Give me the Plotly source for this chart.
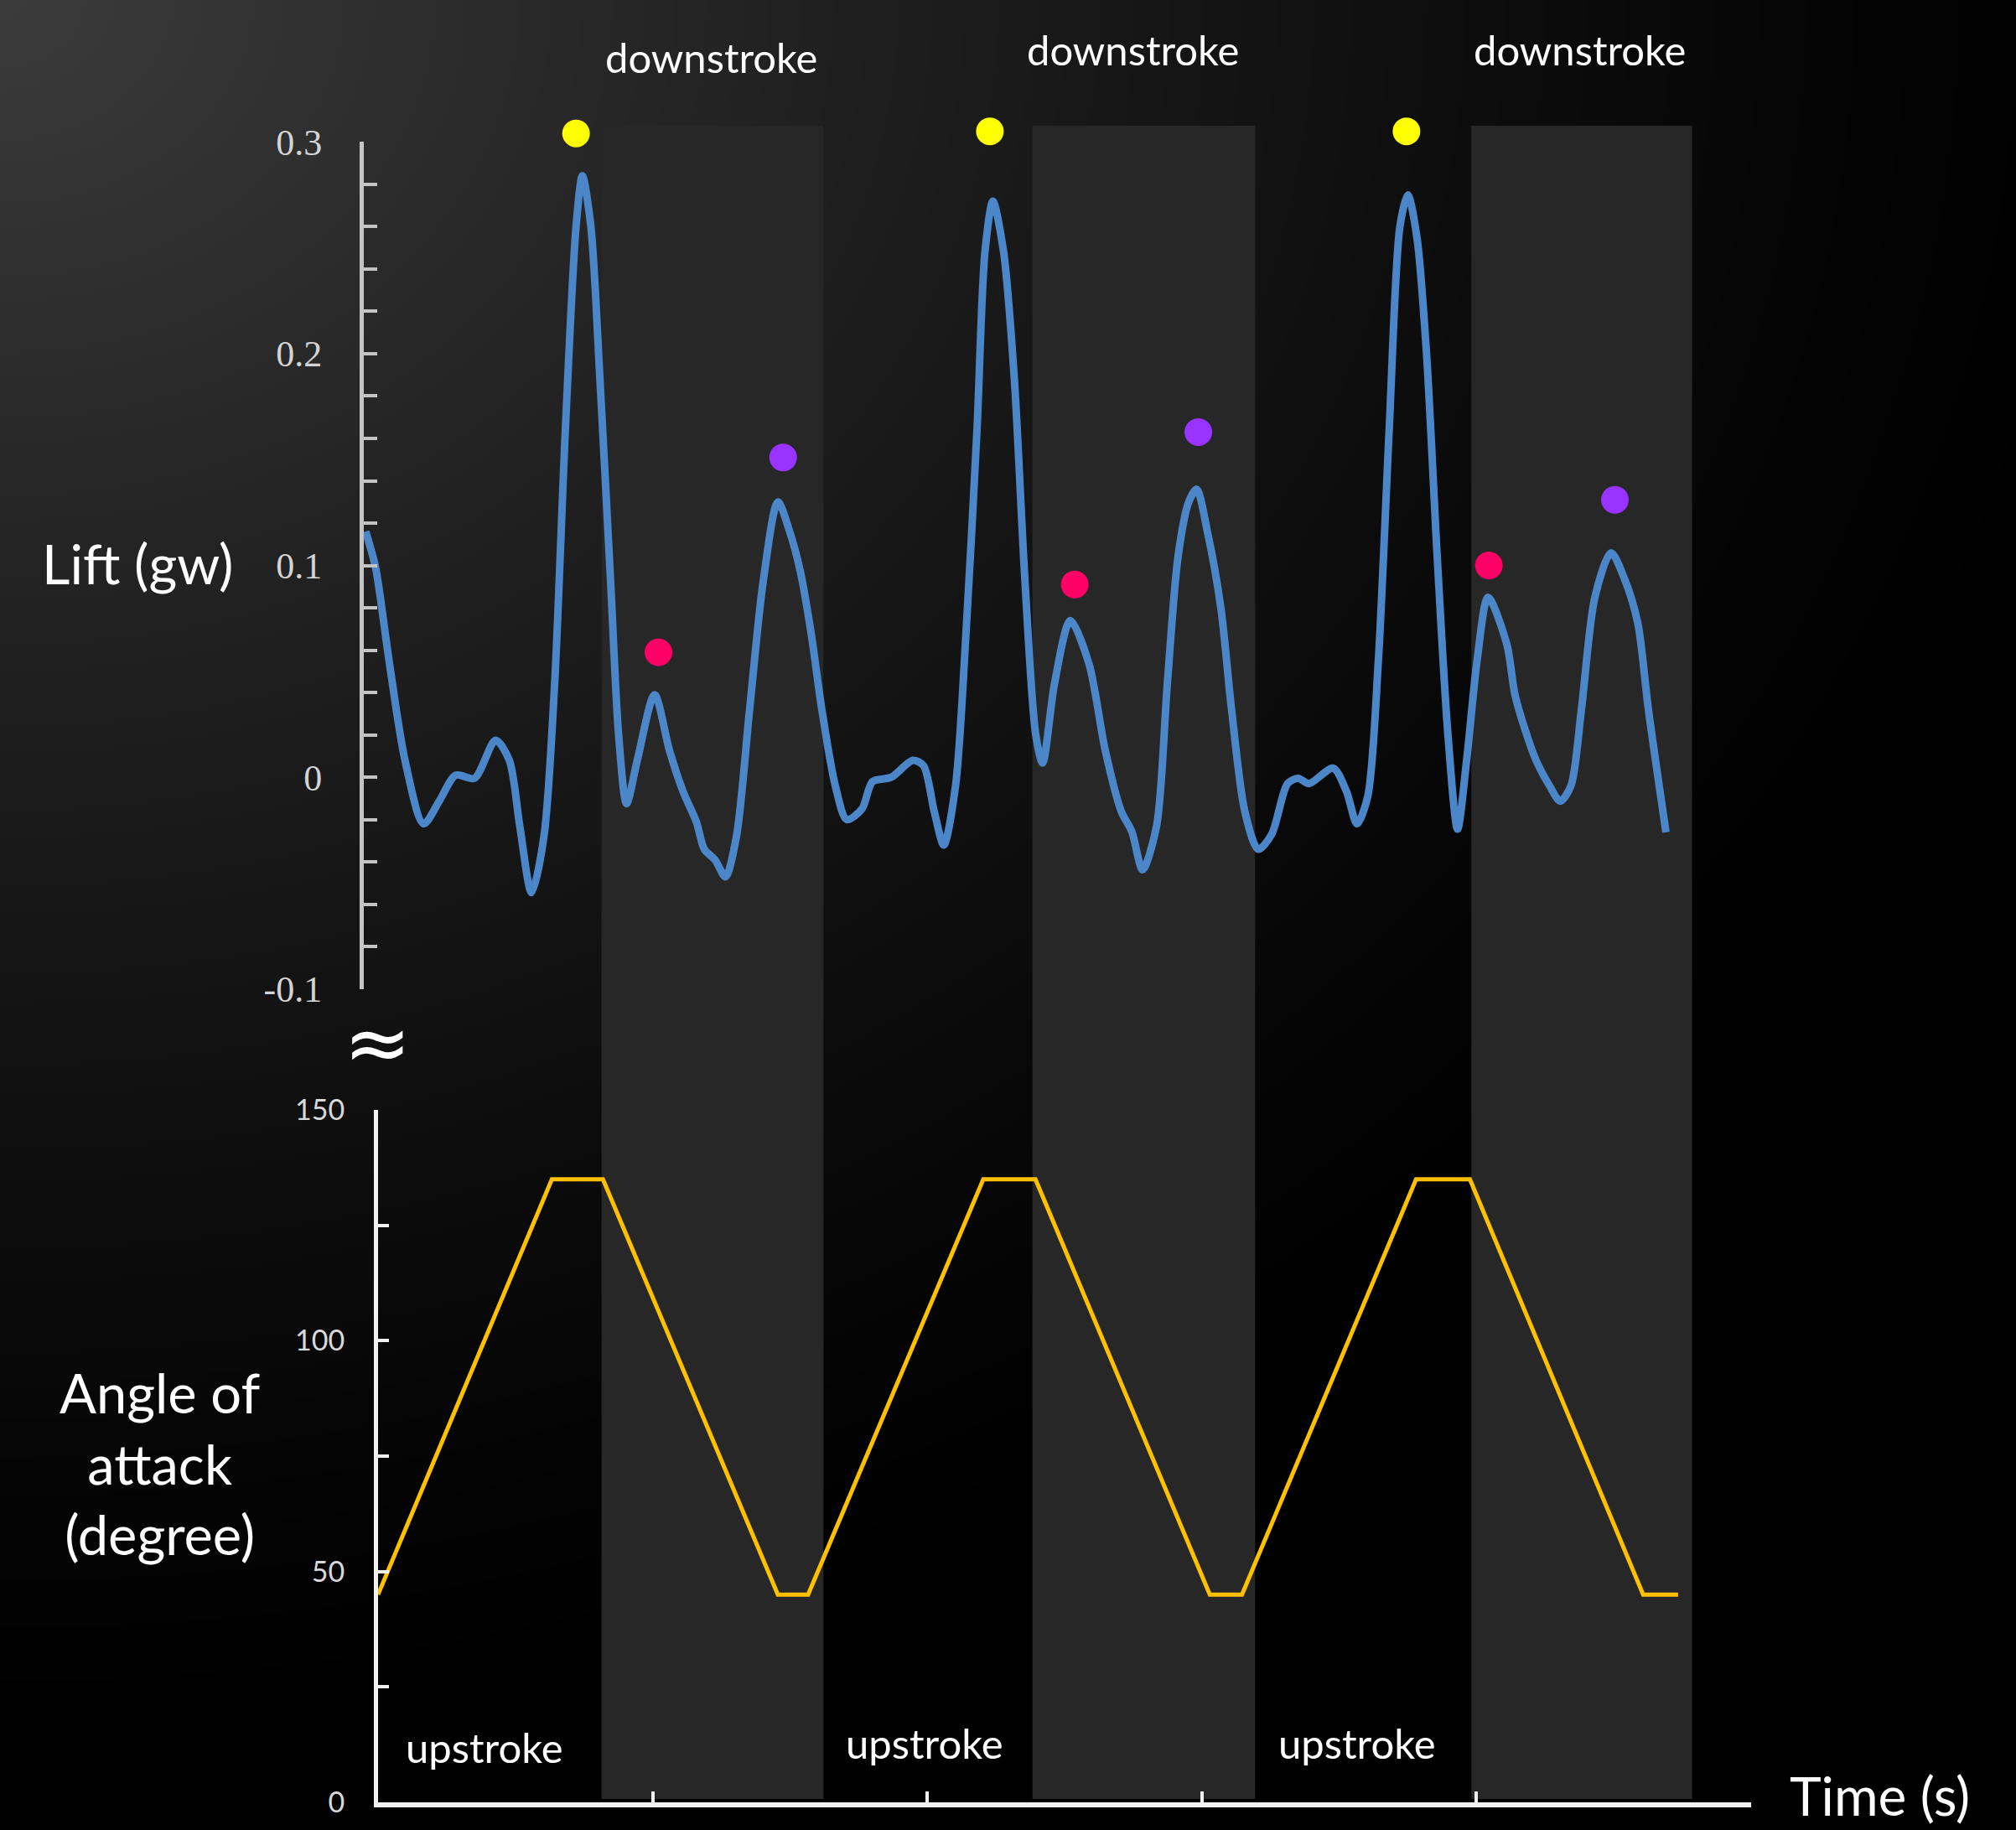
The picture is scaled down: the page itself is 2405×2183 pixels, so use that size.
import base64
import struct
import zlib

import numpy as np
import plotly.graph_objects as go

# ------------------------------------------------------------------ data
lift_t = [-0.045, -0.009, 0.039, 0.098, 0.166, 0.224, 0.283, 0.351, 0.428, 0.478,
          0.516, 0.559, 0.604, 0.643, 0.682, 0.721, 0.744, 0.775, 0.808, 0.847,
          0.876, 0.905, 0.944, 1.007, 1.061, 1.110, 1.159, 1.188, 1.227, 1.265,
          1.305, 1.353, 1.402, 1.456, 1.499, 1.538, 1.577, 1.616, 1.665, 1.707,
          1.762, 1.801, 1.869, 1.947, 1.986, 2.025, 2.060, 2.103, 2.141, 2.181,
          2.210, 2.239, 2.278, 2.317, 2.356, 2.395, 2.420, 2.463, 2.521, 2.589,
          2.648, 2.706, 2.745, 2.784, 2.835, 2.874, 2.913, 2.952, 2.981, 3.020,
          3.069, 3.108, 3.156, 3.205, 3.254, 3.312, 3.351, 3.390, 3.478, 3.526,
          3.565, 3.604, 3.643, 3.682, 3.721, 3.750, 3.783, 3.818, 3.857, 3.896,
          3.931, 3.964, 4.003, 4.042, 4.110, 4.140, 4.178, 4.217, 4.266, 4.305,
          4.344, 4.382, 4.431, 4.490, 4.538, 4.587, 4.626, 4.690]
lift_v = [0.116, 0.099, 0.056, 0.008, -0.022, -0.011, 0.001, -0.0005, 0.0175, 0.008,
          -0.023, -0.0545, -0.028, 0.044, 0.164, 0.260, 0.284, 0.260, 0.188, 0.092,
          0.020, -0.0125, 0.008, 0.039, 0.0127, -0.0065, -0.021, -0.034, -0.039, -0.047,
          -0.028, 0.032, 0.092, 0.130, 0.116, 0.097, 0.068, 0.032, -0.004, -0.020,
          -0.015, -0.002, 0.000, 0.008, 0.0055, -0.016, -0.032, -0.004, 0.068, 0.164,
          0.248, 0.272, 0.248, 0.188, 0.092, 0.020, 0.0067, 0.044, 0.074, 0.0535,
          0.0127, -0.016, -0.0257, -0.0437, -0.023, 0.044, 0.104, 0.130, 0.136, 0.116,
          0.080, 0.032, -0.016, -0.034, -0.027, -0.003, -0.0005, -0.003, 0.0043, -0.0065,
          -0.022, -0.009, 0.056, 0.164, 0.260, 0.275, 0.255, 0.200, 0.104, 0.020,
          -0.0245, 0.008, 0.056, 0.085, 0.063, 0.039, 0.022, 0.008, -0.004, -0.0113,
          -0.004, 0.032, 0.085, 0.106, 0.094, 0.073, 0.032, -0.026]

angle_t = [0.0, 0.633, 0.819, 1.456, 1.566, 2.204, 2.394, 3.029, 3.146, 3.780, 3.976, 4.607, 4.734]
angle_v = [45, 135, 135, 45, 45, 135, 135, 45, 45, 135, 135, 45, 45]

first_peak_t = [0.721, 2.228, 3.745]
first_peak_v = [0.304, 0.305, 0.305]
second_peak_t = [1.021, 2.537, 4.045]
second_peak_v = [0.059, 0.091, 0.100]
third_peak_t = [1.475, 2.987, 4.504]
third_peak_v = [0.151, 0.163, 0.131]

downstroke_start = [0.814, 2.383, 3.981]
downstroke_end = [1.622, 3.194, 4.785]

lift_ticks = [-0.1, 0, 0.1, 0.2, 0.3]
lift_tick_labels = ["-0.1", "0", "0.1", "0.2", "0.3"]
angle_ticks = [0, 50, 100, 150]
angle_tick_labels = ["0", "50", "100", "150"]
time_ticks = [1, 2, 3, 4, 5]

downstroke_labels = ["downstroke", "downstroke", "downstroke"]
upstroke_labels = ["upstroke", "upstroke", "upstroke"]

# ------------------------------------------------------------------ layout geometry
W, H = 2405, 2183


def px(x):
    return x / W


def py(y):
    return 1 - y / H


LIFT_TOP_PX, LIFT_BOT_PX = 169.3, 1179.8
LIFT_MIN, LIFT_MAX = -0.1, 0.3
px_per_unit = (LIFT_BOT_PX - LIFT_TOP_PX) / (LIFT_MAX - LIFT_MIN)
MARK_TOP_PX = 110.0
mark_max = LIFT_MAX + (LIFT_TOP_PX - MARK_TOP_PX) / px_per_unit

# ------------------------------------------------------------------ background gradient image
gw, gh = 602, 546
X = np.linspace(0, W, gw)[None, :]
Y = np.linspace(0, H, gh)[:, None]
d = np.sqrt((X / 2600.0) ** 2 + (Y / 2100.0) ** 2)
val = 60.0 * np.clip(1 - d, 0, 1) ** 1.3
img = np.clip(val, 0, 255).astype(np.uint8)


def png_gray(arr):
    h, w = arr.shape
    raw = b"".join(b"\x00" + arr[i].tobytes() for i in range(h))

    def chunk(t, data):
        c = struct.pack(">I", len(data)) + t + data
        return c + struct.pack(">I", zlib.crc32(t + data) & 0xFFFFFFFF)

    return (b"\x89PNG\r\n\x1a\n"
            + chunk(b"IHDR", struct.pack(">IIBBBBB", w, h, 8, 0, 0, 0, 0))
            + chunk(b"IDAT", zlib.compress(raw, 9))
            + chunk(b"IEND", b""))


bg_uri = "data:image/png;base64," + base64.b64encode(png_gray(img)).decode()

# ------------------------------------------------------------------ figure
fig = go.Figure()

fig.add_trace(go.Scatter(
    x=lift_t, y=lift_v, mode="lines", xaxis="x", yaxis="y",
    line=dict(color="#4A86C8", width=9, shape="spline", smoothing=0.8),
    showlegend=False, hoverinfo="skip", cliponaxis=False))

for tt, vv, col in [(first_peak_t, first_peak_v, "#FFFF00"),
                    (second_peak_t, second_peak_v, "#FF0066"),
                    (third_peak_t, third_peak_v, "#9933FF")]:
    fig.add_trace(go.Scatter(
        x=tt, y=vv, mode="markers", xaxis="x", yaxis="y3",
        marker=dict(color=col, size=33, line=dict(width=0)),
        showlegend=False, hoverinfo="skip", cliponaxis=False))

fig.add_trace(go.Scatter(
    x=angle_t, y=angle_v, mode="lines", xaxis="x2", yaxis="y2",
    line=dict(color="#FFC000", width=5),
    showlegend=False, hoverinfo="skip", cliponaxis=False))

shapes = []
for s, e in zip(downstroke_start, downstroke_end):
    shapes.append(dict(type="rect", xref="x2", yref="paper", x0=s, x1=e,
                       y0=py(2146), y1=py(150), fillcolor="#272727",
                       line=dict(width=0), layer="below"))

annotations = []
for lab, cx, cy in zip(downstroke_labels, [848.5, 1351.5, 1884], [68, 59, 59]):
    annotations.append(dict(text=lab, x=px(cx), y=py(cy), xref="paper", yref="paper",
                            showarrow=False, xanchor="center", yanchor="middle",
                            font=dict(family="Lato", size=49, color="#ffffff")))
for lab, cx, cy in zip(upstroke_labels, [577.8, 1103, 1618.6], [2084, 2079, 2079]):
    annotations.append(dict(text=lab, x=px(cx), y=py(cy), xref="paper", yref="paper",
                            showarrow=False, xanchor="center", yanchor="middle",
                            font=dict(family="Lato", size=49, color="#ffffff")))

annotations.append(dict(text="Lift (gw)", x=px(163.5), y=py(672), xref="paper", yref="paper",
                        showarrow=False, xanchor="center", yanchor="middle",
                        font=dict(family="Lato", size=65, color="#ffffff")))
annotations.append(dict(text="Angle of<br>attack<br>(degree)", x=px(190), y=py(1745),
                        xref="paper", yref="paper", showarrow=False,
                        xanchor="center", yanchor="middle", align="center",
                        font=dict(family="Lato", size=65, color="#ffffff")))
annotations.append(dict(text="Time (s)", x=px(2242), y=py(2141), xref="paper", yref="paper",
                        showarrow=False, xanchor="center", yanchor="middle",
                        font=dict(family="Lato", size=64, color="#ffffff")))
annotations.append(dict(text="≈", x=px(450), y=py(1244), xref="paper", yref="paper",
                        showarrow=False, xanchor="center", yanchor="middle",
                        font=dict(family="DejaVu Sans", size=96, color="#ffffff")))

top_color = "#c4c4c4"
bot_color = "#f2f2f2"

fig.update_layout(
    width=W, height=H,
    margin=dict(l=0, r=0, t=0, b=0, pad=0, autoexpand=False),
    paper_bgcolor="#000000",
    plot_bgcolor="rgba(0,0,0,0)",
    showlegend=False,
    images=[dict(source=bg_uri, xref="paper", yref="paper", x=0, y=1, sizex=1, sizey=1,
                 xanchor="left", yanchor="top", sizing="stretch", layer="below")],
    shapes=shapes,
    annotations=annotations,
    xaxis=dict(domain=[px(434), px(2089)], range=[-0.0519, 5], visible=False,
               anchor="y", fixedrange=True, automargin=False),
    yaxis=dict(domain=[py(LIFT_BOT_PX), py(LIFT_TOP_PX)], range=[LIFT_MIN, LIFT_MAX], anchor="x",
               automargin=False,
               showgrid=False, zeroline=False, showline=True, linecolor=top_color,
               linewidth=5, ticks="inside", ticklen=16, tickwidth=4, tickcolor=top_color,
               tickvals=lift_ticks, ticktext=lift_tick_labels, ticklabelstandoff=36,
               tickfont=dict(family="Liberation Serif", size=44, color="#d4d4d4"),
               minor=dict(tickmode="linear", tick0=0, dtick=0.02, ticks="inside",
                          ticklen=16, tickwidth=4, tickcolor=top_color, showgrid=False)),
    yaxis3=dict(domain=[py(LIFT_BOT_PX), py(MARK_TOP_PX)], range=[LIFT_MIN, mark_max],
                anchor="x", visible=False, automargin=False, showgrid=False, zeroline=False),
    xaxis2=dict(domain=[px(451), px(2089)], range=[0, 5], anchor="y2",
                automargin=False,
                showgrid=False, zeroline=False, showline=True, linecolor=bot_color,
                linewidth=6, ticks="inside", ticklen=13, tickwidth=4, tickcolor=bot_color,
                tickvals=time_ticks, showticklabels=False),
    yaxis2=dict(domain=[py(2149.8), py(1324.3)], range=[0, 150], anchor="x2",
                automargin=False,
                showgrid=False, zeroline=False, showline=True, linecolor=bot_color,
                linewidth=5, ticks="inside", ticklen=13, tickwidth=4, tickcolor=bot_color,
                tickvals=angle_ticks, ticktext=angle_tick_labels, ticklabelstandoff=28,
                tickfont=dict(family="Lato", size=34, color="#d9d9d9"),
                minor=dict(tickmode="linear", tick0=0, dtick=25, ticks="inside",
                           ticklen=13, tickwidth=4, tickcolor=bot_color, showgrid=False)),
)

fig.write_html("out.html",
               config={"displayModeBar": False},
               post_script="document.body.style.margin='0';document.body.style.overflow='hidden';")
